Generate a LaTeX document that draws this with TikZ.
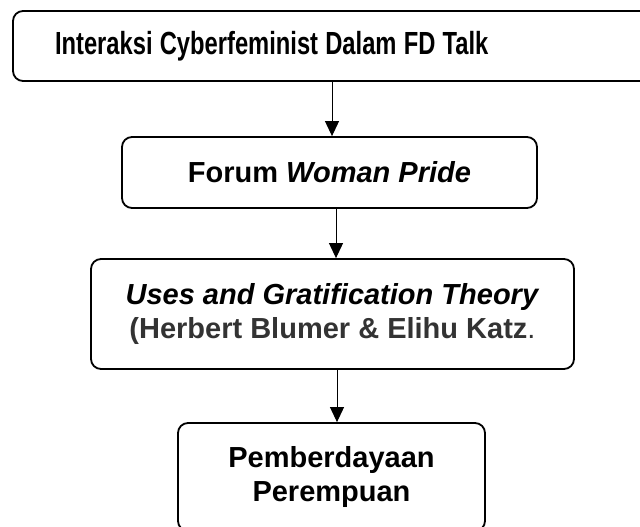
\documentclass[tikz,border=0pt]{standalone}
\usepackage{graphicx}
\usepackage{fontspec}
\setmainfont{Liberation Sans}
\usetikzlibrary{arrows.meta}
\definecolor{namegray}{HTML}{333333}

\begin{document}
\begin{tikzpicture}[x=1pt,y=-1pt,
  box/.style={draw,line width=1.8pt,rounded corners=10pt,align=center,font=\bfseries\fontsize{29}{34}\selectfont},
  flow/.style={line width=1pt,-{Triangle[length=15pt,width=14pt]}}]
\useasboundingbox (0,0) rectangle (640,527);
\node [box,text width=554pt,align=left,inner xsep=42pt,minimum height=70pt] (cyber) at (332,46) {\scalebox{0.742}[1]{\fontsize{32}{36}\selectfont Interaksi Cyberfeminist Dalam FD Talk}};
\node [box,minimum width=415pt,minimum height=71pt] (forum) at (329.5,172.5) {Forum \textit{Woman Pride}};
\node [box,minimum width=483pt,minimum height=110pt] (uses) at (332.5,314) {\textit{Uses and Gratification Theory}\\{\color{namegray}(Herbert Blumer \& Elihu Katz\textmd{.}}};
\node [box,minimum width=307pt,minimum height=108pt] (daya) at (331.5,477) {Pemberdayaan\\Perempuan};
\draw [flow] (cyber.south) -- (cyber.south |- forum.north);
\draw [flow] ([xshift=6.5pt]forum.south) -- ([xshift=6.5pt]forum.south |- uses.north);
\draw [flow] ([xshift=4.5pt]uses.south) -- ([xshift=4.5pt]uses.south |- daya.north);
\end{tikzpicture}
\end{document}
